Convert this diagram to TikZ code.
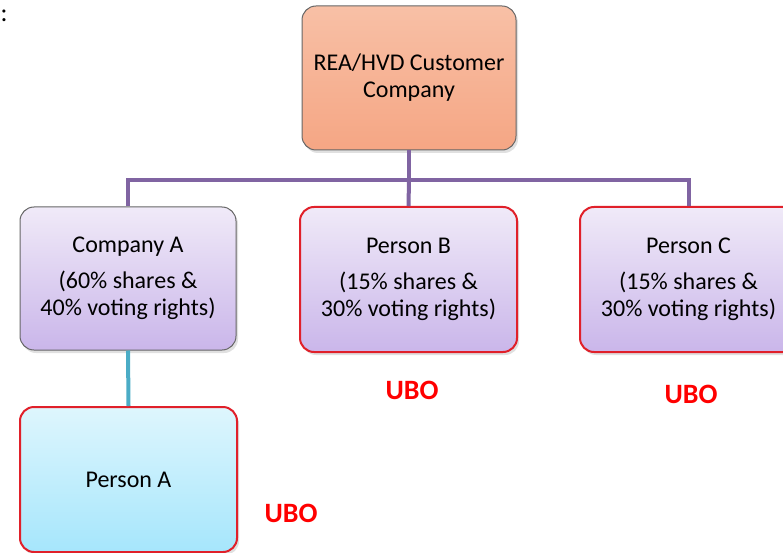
\documentclass[tikz,border=0pt]{standalone}
\usepackage{fontspec}
\setmainfont{Carlito}
\usetikzlibrary{shadows}
\definecolor{linkpurple}{HTML}{8064A2}
\definecolor{linkteal}{HTML}{4BACC6}
\definecolor{ubored}{HTML}{FF0000}
\definecolor{boxred}{HTML}{E0202A}
\definecolor{salmontop}{HTML}{F8C0A6}
\definecolor{salmonbot}{HTML}{F5A684}
\definecolor{lavtop}{HTML}{F0EAF8}
\definecolor{lavbot}{HTML}{CAB6EA}
\definecolor{bluetop}{HTML}{DEF6FD}
\definecolor{bluebot}{HTML}{A6E6FC}
\tikzset{
  box/.style={rounded corners=14pt, align=center, inner sep=0pt,
    font=\fontsize{24}{27}\selectfont, text=black,
    drop shadow={shadow xshift=2pt, shadow yshift=-3pt, opacity=0.35, fill=gray!70}},
  topbox/.style={box, draw=gray!80!black, line width=1pt, top color=salmontop, bottom color=salmonbot},
  lavbox/.style={box, top color=lavtop, bottom color=lavbot},
  grayedge/.style={draw=gray!80!black, line width=1pt},
  rededge/.style={draw=boxred, line width=2pt},
  bluebox/.style={box, draw=boxred, line width=2pt, top color=bluetop, bottom color=bluebot},
  ubo/.style={text=ubored, font=\fontsize{28}{32}\selectfont\bfseries},
  purplelink/.style={draw=linkpurple, line width=4pt},
  teallink/.style={draw=linkteal, line width=4pt},
}
\begin{document}
\begin{tikzpicture}[x=1pt, y=-1pt]
\useasboundingbox (0,0) rectangle (783,553);
\node (colon) at (4,16) {\fontsize{26}{27}\selectfont :};
\node[topbox, minimum width=214pt, minimum height=144pt] (top) at (409,78) {REA/HVD Customer\\Company};
\node[lavbox, grayedge, minimum width=216pt, minimum height=143pt] (ca) at (128,278.5) {Company A\\[9pt](60\% shares \&\\40\% voting rights)};
\node[lavbox, rededge, minimum width=217pt, minimum height=145pt] (pb) at (408.5,279.5) {Person B\\[9pt](15\% shares \&\\30\% voting rights)};
\node[lavbox, rededge, minimum width=217pt, minimum height=145pt] (pc) at (688.5,279.5) {Person C\\[9pt](15\% shares \&\\30\% voting rights)};
\node[bluebox, minimum width=217pt, minimum height=145pt] (pa) at (128.5,479.5) {Person A};
\coordinate (bus) at (409,180);
\draw[purplelink] (top.south) -- (bus);
\draw[purplelink] (ca.north) -- (ca.north |- bus) -- (pc.north |- bus) -- (pc.north);
\draw[purplelink] (bus) -- (pb.north);
\draw[teallink] (ca.south) -- (pa.north);
\node[ubo] (ubob) at (412,390) {UBO};
\node[ubo] (uboc) at (691,394) {UBO};
\node[ubo] (uboa) at (291,513) {UBO};
\end{tikzpicture}
\end{document}
